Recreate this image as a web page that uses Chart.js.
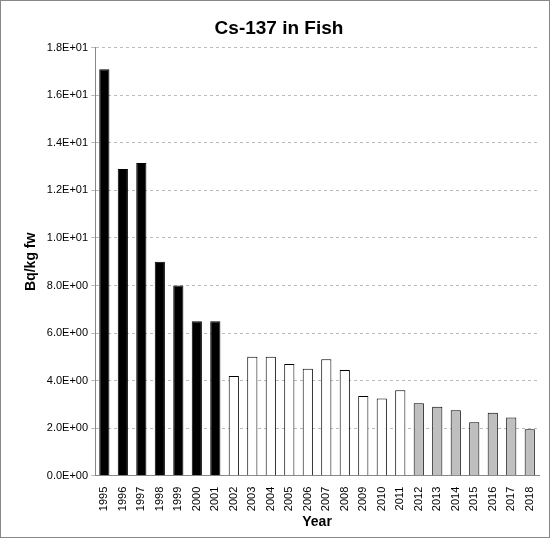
<!DOCTYPE html>
<html><head><meta charset="utf-8">
<script src="https://cdn.jsdelivr.net/npm/chart.js@4/dist/chart.umd.min.js"></script>
<style>html,body{margin:0;padding:0;background:#fff}#w{position:absolute;left:0;top:0;width:548px;height:536px;border:1px solid #888}</style>
</head><body><div id="w"><canvas id="c" width="548" height="536"></canvas></div>
<script>
const years=['1995','1996','1997','1998','1999','2000','2001','2002','2003','2004','2005','2006','2007','2008','2009','2010','2011','2012','2013','2014','2015','2016','2017','2018'];
const values=[17.1,12.9,13.15,9.0,8.0,6.5,6.5,4.2,5.0,5.0,4.7,4.5,4.9,4.45,3.35,3.25,3.6,3.05,2.9,2.75,2.25,2.65,2.45,1.95];
const colors=years.map(y=>+y<=2001?'#000':(+y<=2011?'#fff':'#bfbfbf'));
function fmt(v){const [m,e]=v.toExponential(1).split('e');const n=parseInt(e);return m+'E'+(n<0?'-':'+')+String(Math.abs(n)).padStart(2,'0');}
new Chart(document.getElementById('c'),{type:'bar',
data:{labels:years,datasets:[{data:values,backgroundColor:colors,borderColor:'#000',borderWidth:1,barPercentage:0.55,categoryPercentage:1}]},
options:{responsive:false,animation:false,
layout:{padding:{left:18,right:10,top:4,bottom:6}},
plugins:{legend:{display:false},title:{display:true,text:'Cs-137 in Fish',font:{family:'Liberation Sans',size:19,weight:'bold'},color:'#000',padding:{top:12,bottom:8}}},
scales:{
x:{grid:{display:false},border:{color:'#888'},ticks:{color:'#000',maxRotation:90,minRotation:90,font:{family:'Liberation Sans',size:11}},
 title:{display:true,text:'Year',color:'#000',font:{family:'Liberation Sans',size:14,weight:'bold'},padding:0}},
y:{min:0,max:18,ticks:{stepSize:2,color:'#000',callback:v=>fmt(v),font:{family:'Liberation Sans',size:11}},
 grid:{color:'#bbb',tickLength:4},border:{color:'#888',dash:[3,3]},
 title:{display:true,text:'Bq/kg fw',color:'#000',font:{family:'Liberation Sans',size:14,weight:'bold'}}}
}}});
</script></body></html>
